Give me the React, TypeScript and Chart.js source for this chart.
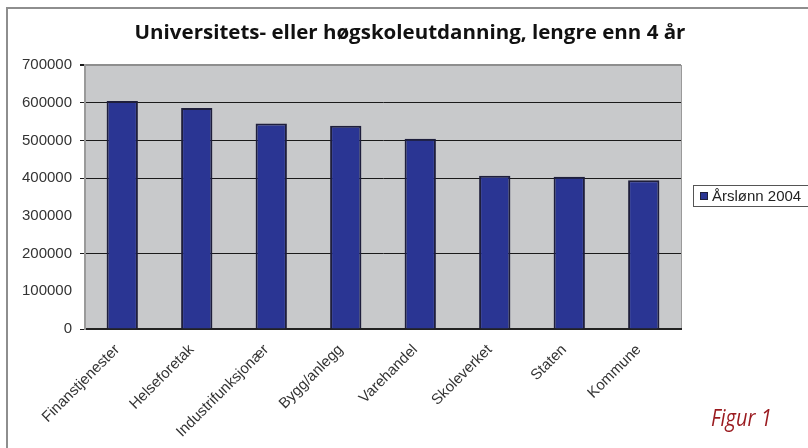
import React, { useEffect, useRef } from "react";
import { Chart, registerables } from "chart.js";

Chart.register(...registerables);

const categories = [
  "Finanstjenester",
  "Helseforetak",
  "Industrifunksjonær",
  "Bygg/anlegg",
  "Varehandel",
  "Skoleverket",
  "Staten",
  "Kommune",
];
const seriesLabel = "Årslønn 2004";
const salaries = [604700, 586200, 545000, 538600, 504200, 406300, 403700, 394200];
const yMin = 0;
const yMax = 700000;
const yStep = 100000;
const hiddenGridValues = [300000, 100000];
const titleText = "Universitets- eller høgskoleutdanning, lengre enn 4 år";
const figureText = "Figur 1";

const FONT = "'Liberation Sans', Arial, sans-serif";
const BAR_FILL = "#2a3593";
const BAR_EDGE = "#1e1e3c";
const PLOT_BG = "#c8c9cb";

const plotBackground = {
  id: "plotBackground",
  beforeDraw(chart: any) {
    const { ctx, chartArea } = chart;
    ctx.save();
    ctx.fillStyle = PLOT_BG;
    ctx.fillRect(chartArea.left, chartArea.top, chartArea.right - chartArea.left, chartArea.bottom - chartArea.top);
    ctx.strokeStyle = "#9a9a9a";
    ctx.lineWidth = 1;
    ctx.beginPath();
    ctx.moveTo(chartArea.right + 0.5, chartArea.top);
    ctx.lineTo(chartArea.right + 0.5, chartArea.bottom);
    ctx.stroke();
    ctx.restore();
  },
};

const boxLegend = {
  id: "boxLegend",
  afterDraw(chart: any) {
    const { ctx } = chart;
    const ds = chart.data.datasets[0];
    ctx.save();
    ctx.strokeStyle = "#555";
    ctx.lineWidth = 1;
    ctx.fillStyle = "#fff";
    ctx.fillRect(693.5, 185.5, 130, 21);
    ctx.strokeRect(693.5, 185.5, 130, 21);
    ctx.fillStyle = ds.backgroundColor;
    ctx.fillRect(700, 192, 8, 8);
    ctx.strokeStyle = ds.borderColor;
    ctx.strokeRect(700.5, 192.5, 7, 7);
    ctx.fillStyle = "#222";
    ctx.font = `15px ${FONT}`;
    ctx.textBaseline = "middle";
    ctx.textAlign = "left";
    ctx.fillText(ds.label, 712, 196.5);
    ctx.restore();
  },
};

export default function App() {
  const canvasRef = useRef<HTMLCanvasElement | null>(null);

  useEffect(() => {
    if (!canvasRef.current) return;
    const chart = new Chart(canvasRef.current, {
      type: "bar",
      data: {
        labels: categories,
        datasets: [
          {
            label: seriesLabel,
            data: salaries,
            backgroundColor: BAR_FILL,
            borderColor: BAR_EDGE,
            borderWidth: 2,
            barPercentage: 0.42,
            categoryPercentage: 1,
          },
        ],
      },
      options: {
        responsive: false,
        animation: false,
        devicePixelRatio: 1,
        layout: { padding: { left: 0, top: 65, right: 127, bottom: 0 } },
        plugins: {
          legend: { display: false },
          title: { display: false },
          tooltip: { enabled: false },
        },
        scales: {
          x: {
            afterFit: (s: any) => {
              s.height = 119;
            },
            grid: { display: false },
            border: { display: true, color: "#222", width: 2 },
            ticks: {
              maxRotation: 45,
              minRotation: 45,
              color: "#333",
              padding: 4,
              labelOffset: -5,
              font: { family: FONT, size: 15 },
            },
          },
          y: {
            min: yMin,
            max: yMax,
            afterFit: (s: any) => {
              s.width = 85;
            },
            border: { display: true, color: "#9a9a9a", width: 2 },
            grid: {
              tickLength: 5,
              color: (c: any) => {
                const v = c.tick ? c.tick.value : null;
                if (v === yMax) return "#8e8e8e";
                if (hiddenGridValues.includes(v)) return "rgba(0,0,0,0)";
                return "#1a1a1a";
              },
              tickColor: (c: any) => {
                const v = c.tick ? c.tick.value : null;
                if (hiddenGridValues.includes(v)) return "rgba(0,0,0,0)";
                return "#1a1a1a";
              },
              lineWidth: (c: any) => {
                const v = c.tick ? c.tick.value : null;
                if (v === yMax) return 2;
                return 1;
              },
            },
            ticks: {
              stepSize: yStep,
              color: "#333",
              padding: 8,
              font: { family: FONT, size: 15 },
              callback: (v: any) => String(v),
            },
          },
        },
      },
      plugins: [plotBackground, boxLegend],
    });
    return () => chart.destroy();
  }, []);

  return (
    <div style={{ position: "absolute", left: 0, top: 0, width: 808, height: 448, overflow: "hidden", background: "#fff" }}>
      <div
        style={{
          position: "absolute",
          left: 6,
          top: 7,
          width: 900,
          height: 500,
          borderTop: "2px solid #8e8e8e",
          borderLeft: "2px solid #8e8e8e",
        }}
      />
      <canvas ref={canvasRef} width={808} height={448} style={{ position: "absolute", left: 0, top: 0 }} />
      <div
        style={{
          position: "absolute",
          left: 410,
          top: 19,
          whiteSpace: "nowrap",
          fontFamily: "'Open Sans', sans-serif",
          fontWeight: 700,
          fontSize: 19,
          lineHeight: "26px",
          color: "#111",
          transform: "translateX(-50%) scaleX(1.08)",
          transformOrigin: "center top",
        }}
      >
        {titleText}
      </div>
      <div
        style={{
          position: "absolute",
          left: 711,
          top: 402,
          whiteSpace: "nowrap",
          fontFamily: "'Open Sans', sans-serif",
          fontStyle: "italic",
          fontSize: 23,
          lineHeight: "30px",
          color: "#9a1a1f",
          transform: "scaleX(0.87)",
          transformOrigin: "left top",
        }}
      >
        {figureText}
      </div>
    </div>
  );
}
